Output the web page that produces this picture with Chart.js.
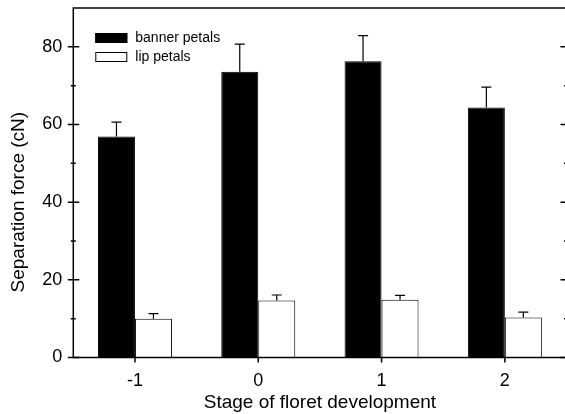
<!DOCTYPE html>
<html>
<head>
<meta charset="utf-8">
<script src="https://cdn.jsdelivr.net/npm/chart.js@4.4.0/dist/chart.umd.min.js"></script>
<style>
    html, body { margin: 0; padding: 0; background: #fff; overflow: hidden; }
</style>
</head>
<body>
<canvas id="chart" width="572" height="414"></canvas>
<script>
// stages of floret development and separation force (cN), mean + upper SE
const stages = ['-1', '0', '1', '2'];
const seriesNames = ['banner petals', 'lip petals'];
const bannerMeans = [56.9, 73.6, 76.3, 64.4];
const bannerErrors = [3.7, 7.1, 6.6, 5.2];
const lipMeans = [10.0, 14.7, 14.9, 10.3];
const lipErrors = [1.3, 1.4, 1.1, 1.4];
const yMin = 0;
const yMax = 90;
const yStep = 10;
const yLabelStep = 20;
const yTitle = 'Separation force (cN)';
const xTitle = 'Stage of floret development';

Chart.defaults.font.family = "'Liberation Sans', Arial, sans-serif";
Chart.defaults.color = '#000';

// error bars (upward only, with cap)
const errorBars = {
    id: 'errorBars',
    afterDatasetsDraw(chart) {
        const { ctx, scales: { y } } = chart;
        ctx.save();
        ctx.strokeStyle = '#000';
        ctx.lineWidth = 1.2;
        chart.data.datasets.forEach((ds, i) => {
            const meta = chart.getDatasetMeta(i);
            meta.data.forEach((bar, j) => {
                const top = y.getPixelForValue(ds.data[j] + ds.errors[j]);
                ctx.beginPath();
                ctx.moveTo(bar.x, bar.y);
                ctx.lineTo(bar.x, top);
                ctx.moveTo(bar.x - 5, top);
                ctx.lineTo(bar.x + 5, top);
                ctx.stroke();
            });
        });
        ctx.restore();
    },
};

// box frame with ticks crossing the axes, plus the y title (sits a bit low, as in the original)
const frameTicks = {
    id: 'frameTicks',
    afterDraw(chart) {
        const { ctx, chartArea: a, scales: { x, y } } = chart;
        ctx.save();
        ctx.strokeStyle = '#000';
        ctx.lineWidth = 1.5;
        ctx.strokeRect(a.left, a.top, a.right - a.left, a.bottom - a.top);
        ctx.beginPath();
        y.ticks.forEach(t => {
            if (t.value === yMax) return;
            const py = y.getPixelForValue(t.value);
            const major = t.value % yLabelStep === 0;
            const out = major ? 5.5 : 2.5;
            const inn = major ? 6 : 2.5;
            ctx.moveTo(a.left - out, py);
            ctx.lineTo(a.left + inn, py);
            ctx.moveTo(a.right - inn, py);
            ctx.lineTo(a.right + out, py);
        });
        stages.forEach((s, i) => {
            const px = x.getPixelForTick(i);
            ctx.moveTo(px, a.bottom);
            ctx.lineTo(px, a.bottom + 5);
        });
        ctx.stroke();

        ctx.translate(19, y.getPixelForValue(40));
        ctx.rotate(-Math.PI / 2);
        ctx.font = "19px 'Liberation Sans', Arial, sans-serif";
        ctx.textAlign = 'center';
        ctx.textBaseline = 'middle';
        ctx.fillStyle = '#000';
        ctx.fillText(yTitle, 0, 0);
        ctx.restore();
    },
};

// legend inside the plot, upper left
const innerLegend = {
    id: 'innerLegend',
    afterDraw(chart) {
        const { ctx, chartArea: a } = chart;
        ctx.save();
        ctx.font = "14px 'Liberation Sans', Arial, sans-serif";
        ctx.textBaseline = 'middle';
        chart.data.datasets.forEach((ds, i) => {
            const bx = a.left + 22;
            const by = a.top + 25 + i * 19;
            ctx.fillStyle = ds.backgroundColor;
            ctx.fillRect(bx, by, 32, 10);
            ctx.strokeStyle = '#000';
            ctx.lineWidth = 1;
            ctx.strokeRect(bx + 0.5, by + 0.5, 31, 9);
            ctx.fillStyle = '#000';
            ctx.fillText(ds.label, bx + 40, by + 5);
        });
        ctx.restore();
    },
};

new Chart(document.getElementById('chart'), {
    type: 'bar',
    data: {
        labels: stages,
        datasets: [
            {
                label: seriesNames[0],
                data: bannerMeans,
                errors: bannerErrors,
                backgroundColor: '#000',
                borderColor: '#000',
                borderWidth: 1,
            },
            {
                label: seriesNames[1],
                data: lipMeans,
                errors: lipErrors,
                backgroundColor: '#fff',
                borderColor: '#000',
                borderWidth: 1,
            },
        ],
    },
    options: {
        responsive: false,
        animation: false,
        layout: { padding: { top: 8, right: 5.5, left: 0, bottom: 0 } },
        datasets: { bar: { categoryPercentage: 0.6, barPercentage: 1.0 } },
        plugins: {
            legend: { display: false },
            tooltip: { enabled: false },
        },
        scales: {
            x: {
                grid: { display: false, drawTicks: false },
                border: { display: false },
                ticks: { padding: 13, font: { size: 18 } },
                title: {
                    display: true,
                    text: xTitle,
                    font: { size: 19 },
                    padding: { top: 0, bottom: 0 },
                },
                afterFit: s => {
                    s.height = 56.5;
                    s.paddingLeft = 0;
                    s.paddingRight = 0;
                },
            },
            y: {
                min: yMin,
                max: yMax,
                grid: { display: false, drawTicks: false },
                border: { display: false },
                ticks: {
                    stepSize: yStep,
                    padding: 11,
                    font: { size: 18 },
                    callback: v => (v % yLabelStep === 0 && v !== yMax ? v : ''),
                },
                title: { display: false },
                afterFit: s => {
                    s.width = 73.3;
                    s.paddingTop = 0;
                    s.paddingBottom = 0;
                },
            },
        },
    },
    plugins: [errorBars, frameTicks, innerLegend],
});
</script>
</body>
</html>
